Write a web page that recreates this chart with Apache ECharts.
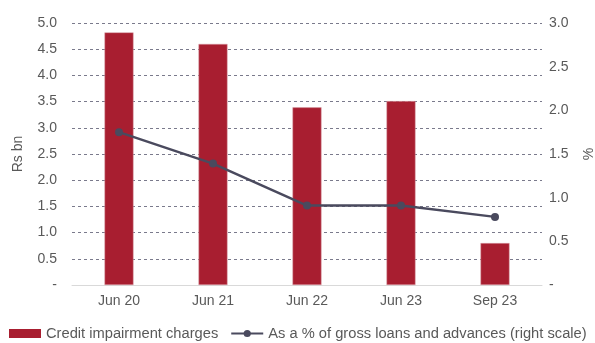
<!DOCTYPE html>
<html><head><meta charset="utf-8">
<script src="https://cdn.jsdelivr.net/npm/echarts@6/dist/echarts.min.js"></script>
<style>html,body{margin:0;padding:0;background:#fff}#c{width:595px;height:343px}</style>
</head><body><div id="c"></div>
<script>
const categories = ['Jun 20', 'Jun 21', 'Jun 22', 'Jun 23', 'Sep 23'];
const creditCharges = [4.82, 4.60, 3.39, 3.51, 0.80];
const pctOfLoans = [1.75, 1.39, 0.91, 0.91, 0.78];
const leftTicks = { min: 0, max: 5, interval: 0.5 };
const rightTicks = { min: 0, max: 3, interval: 0.5 };

const font = 'Liberation Sans, Arial, sans-serif';
const txt = '#595959';
const fmt = v => v === 0 ? '-' : v.toFixed(1);
const chart = echarts.init(document.getElementById('c'), null, {renderer: 'canvas'});
chart.setOption({
  animation: false,
  textStyle: { fontFamily: font },
  grid: { left: 72, right: 53, top: 23, bottom: 58, outerBoundsMode: 'none', containLabel: false },
  legend: {
    left: 9, top: 326, padding: 0, width: 620, itemGap: 12, itemWidth: 32, itemHeight: 9,
    textStyle: { fontFamily: font, fontSize: 14.7, color: txt },
    data: [
      { name: 'Credit impairment charges', icon: 'rect', itemStyle: { borderWidth: 0 } },
      { name: 'As a % of gross loans and advances (right scale)' }
    ]
  },
  xAxis: {
    type: 'category', data: categories,
    axisLine: { lineStyle: { color: '#d9d9d9', width: 1 } },
    axisTick: { show: false },
    axisLabel: { color: txt, fontSize: 14, fontFamily: font, margin: 9 }
  },
  yAxis: [
    {
      type: 'value', min: leftTicks.min, max: leftTicks.max, interval: leftTicks.interval,
      name: 'Rs bn', nameLocation: 'middle', nameGap: 47, nameRotate: 90,
      nameTextStyle: { color: txt, fontSize: 14, fontFamily: font },
      axisLine: { show: false }, axisTick: { show: false },
      axisLabel: { color: txt, fontSize: 14, fontFamily: font, margin: 15, formatter: fmt },
      splitLine: { show: true, lineStyle: { color: '#7a7a8c', type: [3, 3], width: 1 } }
    },
    {
      type: 'value', min: rightTicks.min, max: rightTicks.max, interval: rightTicks.interval,
      name: '%', nameLocation: 'middle', nameGap: 40, nameRotate: 90,
      nameTextStyle: { color: txt, fontSize: 14, fontFamily: font },
      axisLine: { show: false }, axisTick: { show: false },
      axisLabel: { color: txt, fontSize: 14, fontFamily: font, margin: 7, formatter: fmt },
      splitLine: { show: false }
    }
  ],
  series: [
    {
      name: 'Credit impairment charges', type: 'bar', data: creditCharges,
      yAxisIndex: 0, barWidth: 29,
      itemStyle: { color: '#a81e30', borderColor: '#d9a0a8', borderWidth: 0.5 }
    },
    {
      name: 'As a % of gross loans and advances (right scale)', type: 'line', data: pctOfLoans,
      yAxisIndex: 1, symbol: 'circle', symbolSize: 8,
      lineStyle: { color: '#4a4a5e', width: 2.5 },
      itemStyle: { color: '#4a4a5e' }
    }
  ]
});
</script></body></html>
